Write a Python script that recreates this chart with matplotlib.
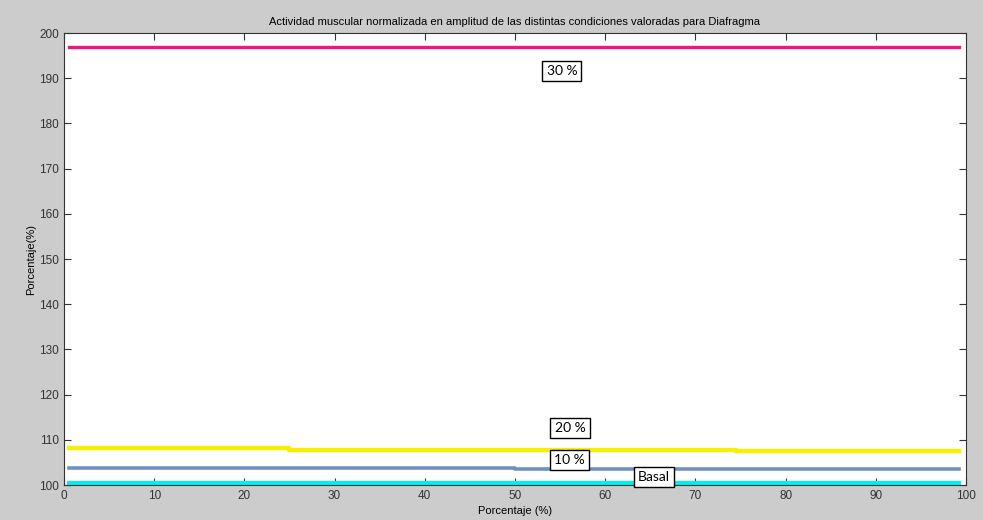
import matplotlib.pyplot as plt

# puntos de cambio (porcentaje del ciclo) y niveles de cada condición
x_pts = [0.5, 25, 50, 74.5, 99.2]
basal = [100.4, 100.4, 100.4, 100.4, 100.4]
diez = [103.8, 103.8, 103.5, 103.5, 103.5]
veinte = [108.1, 107.8, 107.8, 107.5, 107.5]
treinta = [196.9, 196.9, 196.9, 196.9, 196.9]

etiquetas = ['30 %', '20 %', '10 %', 'Basal']
etq_x = [55.2, 56.1, 56.0, 65.4]
etq_y = [191.6, 112.6, 105.5, 101.8]

fig = plt.figure(figsize=(9.83, 5.2), dpi=100, facecolor='#cccccc')
ax = fig.add_axes([0.0651, 0.0673, 0.9176, 0.8692])

ax.plot(x_pts, treinta, drawstyle='steps-post', color='#f0167f', lw=2.4)
ax.plot(x_pts, veinte, drawstyle='steps-post', color='#f8f000', lw=3.2)
ax.plot(x_pts, diez, drawstyle='steps-post', color='#7090c0', lw=2.6)
ax.plot(x_pts, basal, drawstyle='steps-post', color='#00f0f0', lw=3.0)

for t, xx, yy in zip(etiquetas, etq_x, etq_y):
    ax.text(xx, yy, t, ha='center', va='center', fontsize=10, family='Lato',
            bbox=dict(facecolor='white', edgecolor='black', boxstyle='square,pad=0.3', lw=1))

ax.set_xlim(0, 100)
ax.set_ylim(100, 200)
ax.set_xticks(range(0, 101, 10))
ax.set_yticks(range(100, 201, 10))
ax.tick_params(direction='in', length=5, top=True, right=True, labelsize=8.5, colors='#333333')
for lbl in ax.get_xticklabels() + ax.get_yticklabels():
    lbl.set_family('Liberation Sans')
for s in ax.spines.values():
    s.set_color('#333333')

ax.set_title('Actividad muscular normalizada en amplitud de las distintas condiciones valoradas para Diafragma',
             fontsize=8, family='Liberation Sans', pad=6)
ax.set_xlabel('Porcentaje (%)', fontsize=8, family='Liberation Sans', labelpad=3)
ax.set_ylabel('Porcentaje(%)', fontsize=8, family='Liberation Sans', labelpad=2)

fig.savefig('out.png', dpi=100, facecolor=fig.get_facecolor())
